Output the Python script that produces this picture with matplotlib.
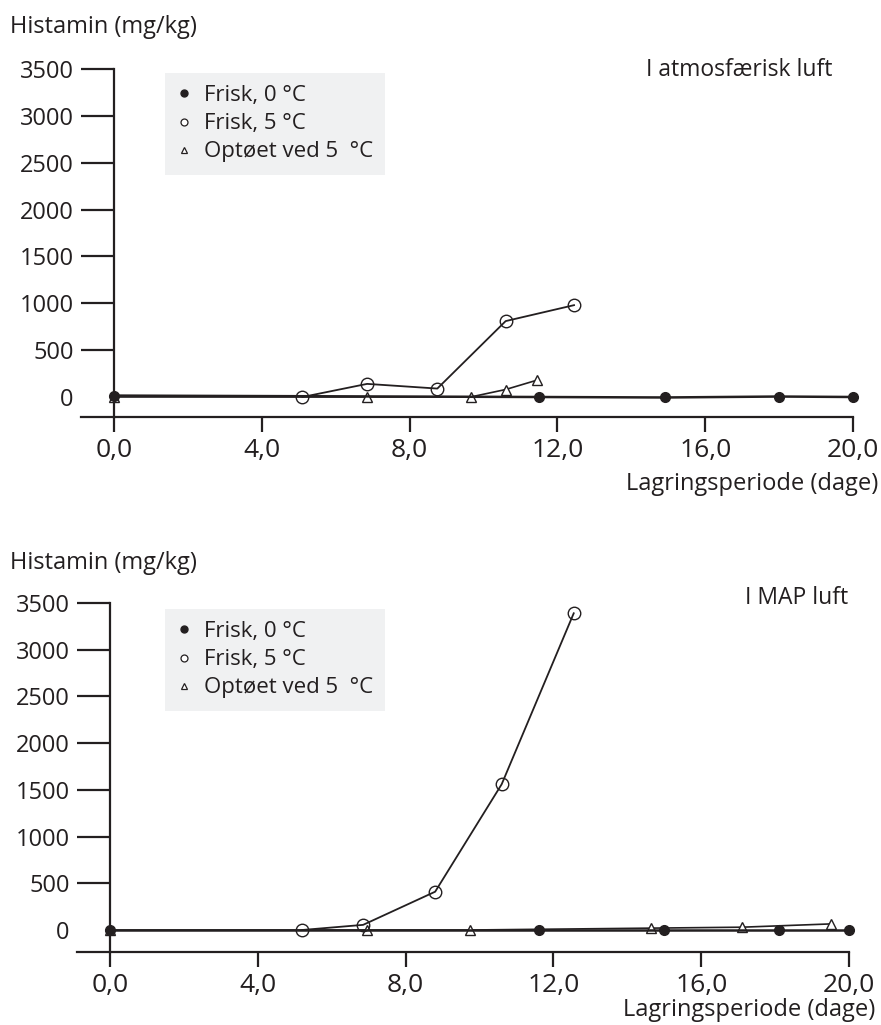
import matplotlib
matplotlib.use("Agg")
import matplotlib.pyplot as plt
from matplotlib.lines import Line2D

plt.rcParams['font.family'] = ['Open Sans', 'DejaVu Sans']

# ---- data ----
xticks = [0, 4, 8, 12, 16, 20]
xticklabels = ["0,0", "4,0", "8,0", "12,0", "16,0", "20,0"]
yticks = [0, 500, 1000, 1500, 2000, 2500, 3000, 3500]
series_labels = ["Frisk, 0 °C", "Frisk, 5 °C", "Optøet ved 5  °C"]

# Top panel: I atmosfærisk luft
top_fresh0_days = [0, 11.5, 14.9, 18.0, 20.0]
top_fresh0_vals = [15, 0, -5, 5, 0]
top_fresh5_days = [5.1, 6.85, 8.75, 10.6, 12.45]
top_fresh5_vals = [0, 140, 90, 810, 980]
top_thaw_days = [0, 6.85, 9.65, 10.6, 11.45]
top_thaw_vals = [0, 0, 0, 80, 180]

# Bottom panel: I MAP luft
bot_fresh0_days = [0, 11.6, 15.0, 18.1, 20.0]
bot_fresh0_vals = [0, 0, 0, 0, 0]
bot_fresh5_days = [5.2, 6.85, 8.8, 10.6, 12.55]
bot_fresh5_vals = [0, 55, 410, 1560, 3390]
bot_thaw_days = [0, 6.95, 9.75, 14.65, 17.1, 19.5]
bot_thaw_vals = [0, 0, 0, 20, 30, 65]

W, H = 881, 1025
INK = '#231f20'
fig = plt.figure(figsize=(W / 100, H / 100), dpi=100)


def fx(px):
    return px / W


def fy(py):
    return 1 - py / H


def panel(left, right, top, bottom, y0px, x0px, data, title, title_xy, leg_box):
    ax = fig.add_axes([fx(left), fy(bottom), fx(right - left), (bottom - top) / H])
    ppu = (right - x0px) / 20.0
    ax.set_xlim(-(x0px - left) / ppu, 20)
    yppu = (y0px - top) / 3500.0
    ax.set_ylim(-(bottom - y0px) / yppu, 3500)

    (d0, v0), (d5, v5), (dt, vt) = data
    ax.plot(dt, vt, color=INK, lw=1.2, marker='^', ms=7, mfc='white', mec=INK,
            mew=1.0, clip_on=False, zorder=3)
    ax.plot(d5, v5, color=INK, lw=1.3, marker='o', ms=9, mfc='none', mec=INK,
            mew=1.0, clip_on=False, zorder=4)
    ax.plot(d0, v0, color=INK, lw=1.8, marker='o', ms=7, mfc=INK, mec=INK,
            clip_on=False, zorder=5)

    for s in ['top', 'right']:
        ax.spines[s].set_visible(False)
    ax.spines['left'].set_position(('data', 0))
    ax.spines['left'].set_linewidth(1.6)
    ax.spines['bottom'].set_linewidth(1.6)
    ax.spines['left'].set_color(INK)
    ax.spines['bottom'].set_color(INK)

    ax.set_xticks(xticks)
    ax.set_xticklabels(xticklabels)
    ax.set_yticks(yticks)
    ax.set_yticklabels([str(v) for v in yticks])
    ax.tick_params(axis='y', direction='out', length=24, width=1.6, pad=5,
                   labelsize=17, colors=INK)
    ax.tick_params(axis='x', direction='out', length=11, width=1.6, pad=4,
                   labelsize=19, colors=INK)
    ax.yaxis.get_major_ticks()[0].tick1line.set_visible(False)

    fig.text(fx(title_xy[0]), fy(title_xy[1]), title, ha='right', va='center',
             fontsize=16.5, color=INK)

    handles = [
        Line2D([], [], ls='none', marker='o', ms=5, mfc=INK, mec=INK),
        Line2D([], [], ls='none', marker='o', ms=5, mfc='white', mec=INK, mew=0.9),
        Line2D([], [], ls='none', marker='^', ms=5, mfc='white', mec=INK, mew=0.9),
    ]
    leg = ax.legend(handles, series_labels, loc='upper left',
                    bbox_to_anchor=(fx(leg_box[0]), fy(leg_box[1])),
                    bbox_transform=fig.transFigure, frameon=True, fancybox=False,
                    facecolor='#f0f1f2', edgecolor='none', framealpha=1,
                    fontsize=16, handlelength=0.6, handletextpad=0.6,
                    labelspacing=0.32, borderpad=0.55, borderaxespad=0)
    for t in leg.get_texts():
        t.set_color(INK)
    return ax


# Top panel
panel(81, 853, 69, 417, 397, 114,
      [(top_fresh0_days, top_fresh0_vals), (top_fresh5_days, top_fresh5_vals),
       (top_thaw_days, top_thaw_vals)],
      "I atmosfærisk luft", (832, 70), (165, 73))
fig.text(fx(10), fy(27), "Histamin (mg/kg)", ha='left', va='center', fontsize=17, color=INK)
fig.text(fx(878), fy(484), "Lagringsperiode (dage)", ha='right', va='center',
         fontsize=17, color=INK)

# Bottom panel
panel(77, 849, 603, 952, 930, 110,
      [(bot_fresh0_days, bot_fresh0_vals), (bot_fresh5_days, bot_fresh5_vals),
       (bot_thaw_days, bot_thaw_vals)],
      "I MAP luft", (848, 598), (165, 609))
fig.text(fx(10), fy(563), "Histamin (mg/kg)", ha='left', va='center', fontsize=17, color=INK)
fig.text(fx(875), fy(1010), "Lagringsperiode (dage)", ha='right', va='center',
         fontsize=17, color=INK)

fig.savefig("out.png", dpi=100)
